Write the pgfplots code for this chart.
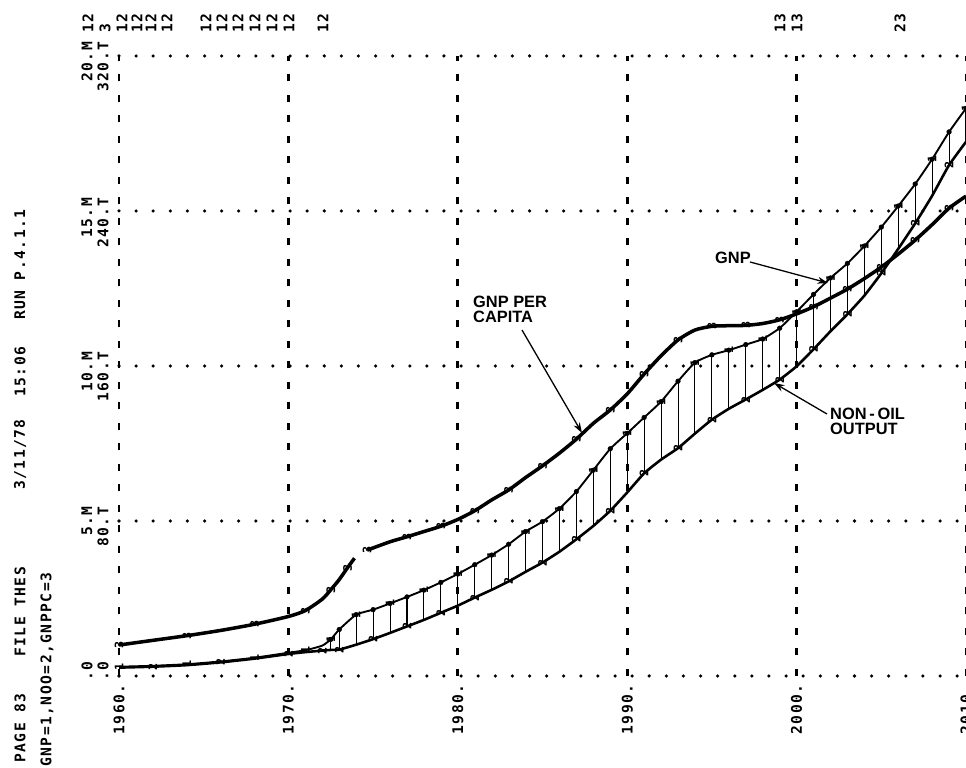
\documentclass[border=0pt]{standalone}
\usepackage{pgfplots}
\pgfplotsset{compat=1.18}
\usepackage{pgfplotstable}
\usepackage{fontspec}
\setmainfont{Liberation Sans}
\newfontfamily\pf{DejaVu Sans Mono Bold}[LetterSpace=10]
\newcommand\pft{\pf\fontsize{12.5}{14}\selectfont}
\newcommand\pfm{\pf\fontsize{10}{10}\selectfont}
\newcommand\ann{\bfseries\fontsize{14}{13}\selectfont}
\usetikzlibrary{arrows.meta}

% GNP per capita (3)
\pgfplotstableread{
year val
1960 1.00
1962 1.15
1964 1.30
1966 1.47
1968 1.67
1970 1.92
1971 2.11
1972 2.48
1972.5 2.78
1973 3.11
1973.5 3.50
1973.9 3.80
1974.3 nan
1974.65 4.06
1976 4.33
1977 4.49
1978 4.66
1979 4.83
1980 5.05
1981 5.33
1982 5.68
1983 6.00
1984 6.40
1985 6.78
1986 7.19
1987 7.64
1988 8.15
1989 8.58
1990 9.10
1991 9.74
1992 10.33
1993 10.84
1994 11.16
1995 11.28
1996 11.30
1997 11.31
1998 11.37
1999 11.49
2000 11.68
2001 11.91
2002 12.19
2003 12.48
2004 12.82
2005 13.19
2006 13.61
2007 14.06
2008 14.56
2009 15.09
2010 15.48
}\gnppc

% GNP (1) and non-oil output (2)
\pgfplotstableread{
year gnp noo
1960 0.30 0.27
1962 0.33 0.30
1964 0.38 0.35
1966 0.47 0.44
1968 0.59 0.56
1970 0.75 0.71
1971 0.83 0.77
1972 0.98 0.82
1972.5 1.18 0.84
1973 1.50 0.85
1974 1.98 1.01
1975 2.14 1.19
1976 2.34 1.39
1977 2.55 1.60
1978 2.77 1.81
1979 3.02 2.04
1980 3.29 2.27
1981 3.59 2.53
1982 3.90 2.78
1983 4.25 3.05
1984 4.66 3.36
1985 4.98 3.66
1986 5.40 4.01
1987 5.95 4.41
1988 6.64 4.84
1989 7.33 5.33
1990 7.83 5.92
1991 8.34 6.54
1992 8.85 6.98
1993 9.51 7.35
1994 10.11 7.82
1995 10.36 8.27
1996 10.51 8.62
1997 10.69 8.92
1998 10.87 9.23
1999 11.22 9.56
2000 11.75 9.99
2001 12.31 10.54
2002 12.84 11.12
2003 13.31 11.67
2004 13.87 12.27
2005 14.48 12.99
2006 15.16 13.78
2007 15.87 14.60
2008 16.67 15.49
2009 17.55 16.48
2010 18.31 17.23
}\band

\begin{document}
\begin{tikzpicture}
\path[use as bounding box] (0,0) rectangle (28.98,23.04);
\begin{axis}[
  scale only axis, width=25.41cm, height=18.6cm,
  at={(3.57cm,2.76cm)}, anchor=south west,
  xmin=1960, xmax=2010, ymin=0, ymax=20,
  axis line style={draw=none},
  major tick length=0pt,
  xtick={1960,1970,...,2010},
  xticklabels={1960.,1970.,1980.,1990.,2000.,2010.},
  xticklabel style={rotate=90, anchor=east, font=\pft, inner sep=0pt},
  xticklabel shift=0.25cm,
  ytick={0,5,10,15,20},
  yticklabels={},
  grid=major,
  major x grid style={black, line width=2.4pt, dash pattern=on 6pt off 11.5pt},
  major y grid style={black, line width=3pt, line cap=round, dash pattern=on 0pt off 14.6pt},
  unbounded coords=jump,
]
% hatching between GNP and non-oil output
\addplot[black, only marks, mark=none, forget plot,
  restrict x to domain=1972.4:2011,
  error bars/.cd, y dir=minus, y explicit, error mark=none,
  error bar style={black, line width=0.9pt}]
  table[x=year, y=gnp, y error minus expr=\thisrow{gnp}-\thisrow{noo}]{\band};
\addplot[black, line width=1.6pt, smooth, tension=0.3] table[x=year, y=gnp]{\band};
\addplot[black, line width=2.2pt, smooth, tension=0.3] table[x=year, y=noo]{\band};
\addplot[black, line width=3pt, smooth, tension=0.4] table[x=year, y=val]{\gnppc};
% printer characters
\addplot[black, only marks, mark=text, text mark={1}, text mark as node=true,
  text mark style={font=\pfm, rotate=90}, mark repeat=2] table[x=year, y=gnp]{\band};
\addplot[black, only marks, mark=text, text mark={2}, text mark as node=true,
  text mark style={font=\pfm, rotate=90}, mark repeat=2, mark phase=2] table[x=year, y=noo]{\band};
\addplot[black, only marks, mark=text, text mark={3}, text mark as node=true,
  text mark style={font=\pfm, rotate=90}, mark repeat=2] table[x=year, y=val]{\gnppc};
\end{axis}

\begin{scope}[x=0.03cm, y=-0.03cm, yshift=23.04cm,
  every node/.style={rotate=90, anchor=west, inner sep=0pt, font=\pft}]
% header
\node at (20,763) {PAGE 83};
\node at (20,657) {FILE THES};
\node at (20,490) {3/11/78};
\node at (20,397) {15:06};
\node at (20,320) {RUN P.4.1.1};
\node at (47,767) {GNP=1,NOO=2,GNPPC=3};
% y labels
\node at (87,681) {.0};      \node at (103,681) {.0};
\node at (87,536) {5.M};     \node at (103,547) {80.T};
\node at (87,392) {10.M};    \node at (103,402) {160.T};
\node at (87,238) {15.M};    \node at (103,248) {240.T};
\node at (87,82) {20.M};     \node at (103,92) {320.T};
% coincidence markers along the top
\foreach \xx in {88,122,137,151,167,206,222,238,255,272,289,323}
  \node at (\xx,33) {12};
\node at (105,33) {3};
\node at (780,33) {13};
\node at (797,33) {13};
\node at (900,33) {23};
\end{scope}

\begin{scope}[x=0.03cm, y=-0.03cm, yshift=23.04cm]
\node[anchor=north west, inner sep=0pt, align=left, font=\ann] at (473,296) {GNP PER\\CAPITA};
\draw[line width=1.1pt, -{Stealth[length=9pt,width=6pt]}] (522,330) -- (582,433);
\node[anchor=north west, inner sep=0pt, font=\ann] at (715,252) {GNP};
\draw[line width=1.1pt, -{Stealth[length=9pt,width=6pt]}] (750,262) -- (828,283);
\node[anchor=north west, inner sep=0pt, align=left, font=\ann] at (830,408) {NON\,-\,OIL\\OUTPUT};
\draw[line width=1.1pt, -{Stealth[length=9pt,width=6pt]}] (827,414) -- (774,383);
\end{scope}
\end{tikzpicture}
\end{document}
